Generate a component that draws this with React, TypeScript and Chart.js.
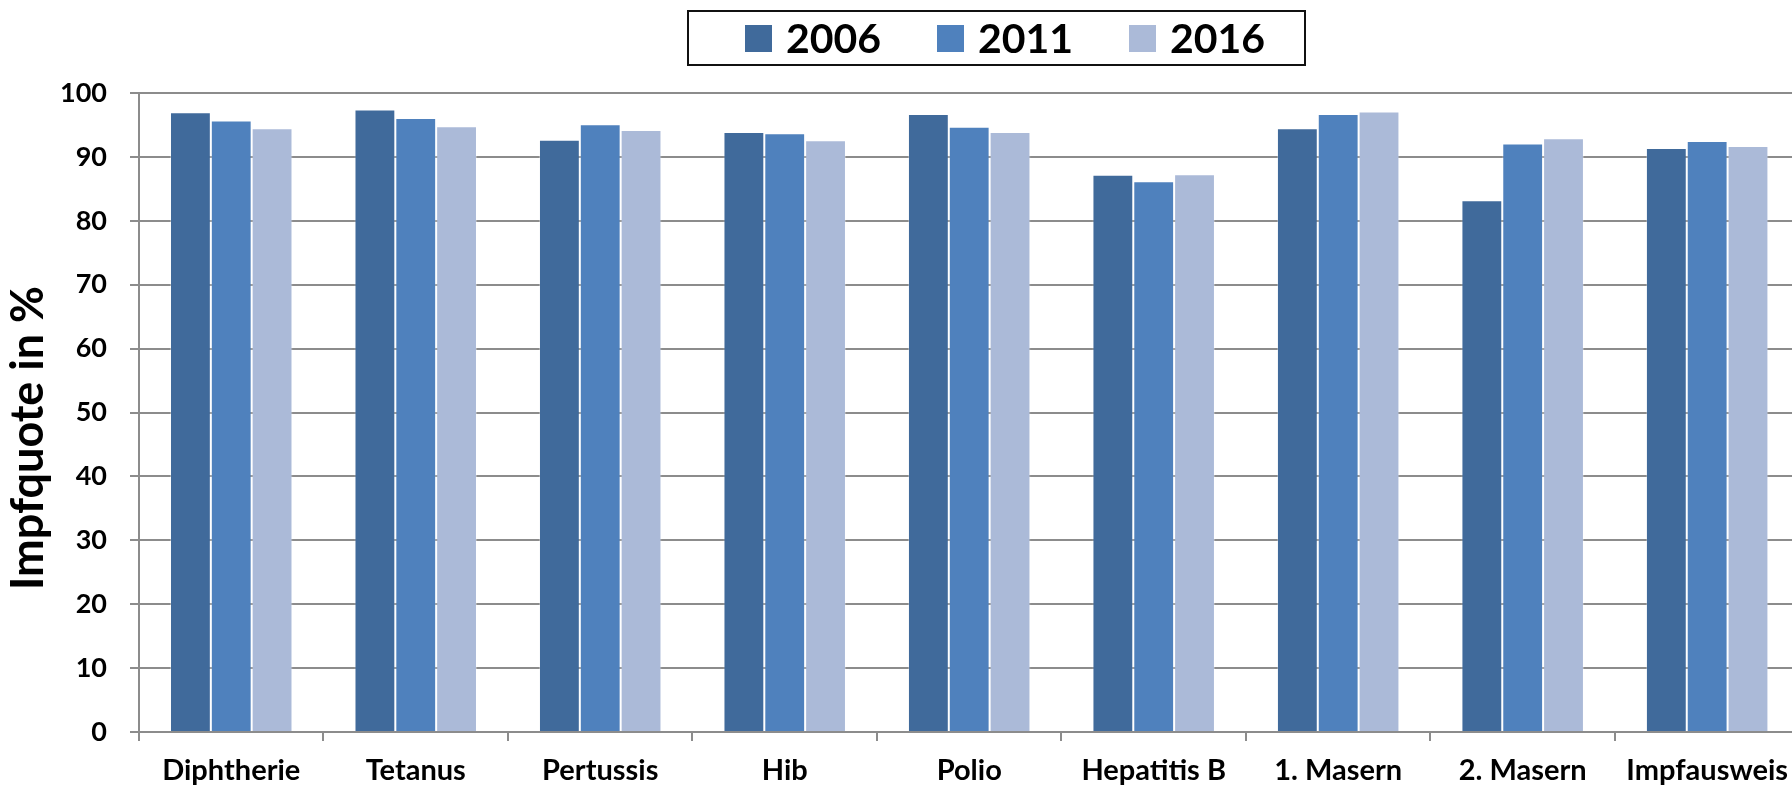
import React, { useEffect, useRef } from "react";
import { Chart, registerables } from "chart.js";

Chart.register(...registerables);

const categories = [
  "Diphtherie",
  "Tetanus",
  "Pertussis",
  "Hib",
  "Polio",
  "Hepatitis B",
  "1. Masern",
  "2. Masern",
  "Impfausweis",
];
const seriesLabels = ["2006", "2011", "2016"];
const values2006 = [97.0, 97.4, 92.7, 93.9, 96.7, 87.2, 94.5, 83.2, 91.4];
const values2011 = [95.7, 96.1, 95.1, 93.7, 94.7, 86.2, 96.7, 92.1, 92.5];
const values2016 = [94.5, 94.8, 94.2, 92.6, 93.9, 87.3, 97.1, 92.9, 91.7];
const yMin = 0;
const yMax = 100;
const yStep = 10;
const yTitle = "Impfquote in %";

const colors = ["#406a9b", "#4f81bd", "#abbad8"];
const FONT = "Lato, 'Open Sans', 'Liberation Sans', sans-serif";

const overlayPlugin = {
  id: "overlay",
  afterDraw(chart: any) {
    const ctx = chart.ctx;
    ctx.save();
    // legend box
    ctx.fillStyle = "#ffffff";
    ctx.fillRect(688, 11, 617, 54);
    ctx.strokeStyle = "#111111";
    ctx.lineWidth = 2;
    ctx.strokeRect(688, 11, 617, 54);
    chart.data.datasets.forEach((ds: any, i: number) => {
      const x = 745 + i * 192;
      ctx.fillStyle = ds.backgroundColor;
      ctx.fillRect(x, 25, 27, 27);
      ctx.fillStyle = "#000000";
      ctx.font = `bold 41px ${FONT}`;
      ctx.textAlign = "left";
      ctx.textBaseline = "alphabetic";
      ctx.fillText(ds.label, x + 41, 52.5);
    });
    // y title
    ctx.translate(43, 438);
    ctx.rotate(-Math.PI / 2);
    ctx.font = `bold 45px ${FONT}`;
    ctx.textAlign = "center";
    ctx.textBaseline = "alphabetic";
    ctx.fillStyle = "#000000";
    ctx.fillText(yTitle, 0, 0);
    ctx.restore();
  },
};

export default function App() {
  const ref = useRef<HTMLCanvasElement | null>(null);
  useEffect(() => {
    if (!ref.current) return;
    const series = [values2006, values2011, values2016];
    const chart = new Chart(ref.current, {
      type: "bar",
      data: {
        labels: categories,
        datasets: seriesLabels.map((label, i) => ({
          label,
          data: series[i],
          backgroundColor: colors[i],
          borderColor: "rgba(255,255,255,0.3)",
          borderWidth: 1,
          categoryPercentage: 0.664,
          barPercentage: 1,
        })),
      },
      options: {
        responsive: false,
        animation: false,
        layout: { padding: { top: 93, left: 0, right: 0, bottom: 0 } },
        plugins: {
          legend: { display: false },
          tooltip: { enabled: false },
          title: { display: false },
        },
        scales: {
          x: {
            grid: {
              display: true,
              drawOnChartArea: false,
              drawTicks: true,
              tickLength: 9,
              color: "#8c8c8c",
              lineWidth: 2,
              offset: true,
            },
            border: { color: "#8c8c8c", width: 2 },
            ticks: {
              color: "#000000",
              font: { family: FONT, weight: "bold", size: 29 },
              padding: 12,
              maxRotation: 0,
              autoSkip: false,
            },
            afterFit: (s: any) => {
              s.height = 57;
            },
          },
          y: {
            min: yMin,
            max: yMax,
            ticks: {
              stepSize: yStep,
              color: "#000000",
              font: { family: FONT, weight: "bold", size: 27 },
              padding: 23,
            },
            grid: { color: "#8c8c8c", lineWidth: 2, tickLength: 9 },
            border: { color: "#8c8c8c", width: 2 },
            afterFit: (s: any) => {
              s.width = 139;
            },
          },
        },
      },
      plugins: [overlayPlugin],
    });
    return () => chart.destroy();
  }, []);
  return (
    <div
      style={{
        position: "fixed",
        left: 0,
        top: 0,
        width: 1792,
        height: 789,
        overflow: "hidden",
        background: "#ffffff",
      }}
    >
      <canvas ref={ref} width={1800} height={789} style={{ display: "block" }} />
    </div>
  );
}
